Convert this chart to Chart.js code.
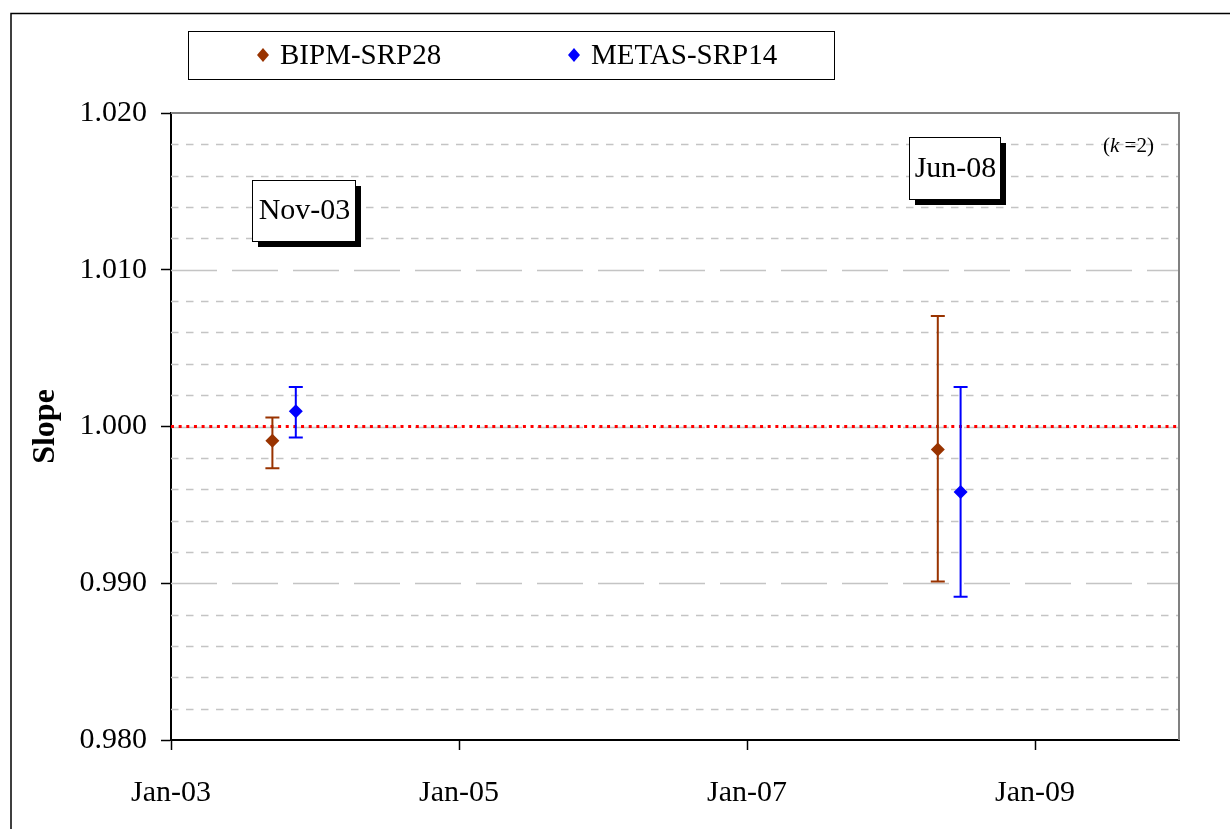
<!DOCTYPE html>
<html>
<head>
<meta charset="utf-8">
<script src="https://cdn.jsdelivr.net/npm/chart.js@4.4.0/dist/chart.umd.min.js"></script>
<style>
  body { margin: 0; background: #fff; }
  #slopeChart { display: block; }
</style>
</head>
<body>
<canvas id="slopeChart" width="1230" height="829"></canvas>
<script>
/**
 *  ! Data (x = months since Jan-03)
 * **/
const seriesNames = ["BIPM-SRP28", "METAS-SRP14"];
const seriesColors = ["#993300", "#0000FF"];

const bipmMonths = [8.45, 63.9];
const bipmSlope = [0.99909, 0.99853];
const bipmUpper = [1.00058, 1.00705];
const bipmLower = [0.99734, 0.99011];

const metasMonths = [10.4, 65.8];
const metasSlope = [1.00098, 0.99582];
const metasUpper = [1.00252, 1.00252];
const metasLower = [0.9993, 0.98914];

const xTickLabels = ["Jan-03", "Jan-05", "Jan-07", "Jan-09"];
const yTickLabels = ["0.980", "0.990", "1.000", "1.010", "1.020"];
const periodLabels = ["Nov-03", "Jun-08"];
const refSlope = 1.0;

const serif = "'Liberation Serif', 'Times New Roman', serif";

function toPoints(xs, ys, hi, lo) {
  return xs.map((x, i) => ({ x: x, y: ys[i], hi: hi[i], lo: lo[i] }));
}

function isMajor(v) {
  return Math.round(v * 1000) % 10 === 0;
}

/**
 *  ! Plugins
 * **/
// outer frame, dashed grid, plot frame, reference line
const backdrop = {
  id: "backdrop",
  beforeDatasetsDraw(chart) {
    const { ctx, chartArea: a, scales } = chart;
    const y = scales.y;
    ctx.save();
    // outer frame (left + top only visible)
    ctx.strokeStyle = "#000";
    ctx.lineWidth = 1.5;
    ctx.beginPath();
    ctx.moveTo(11, 829);
    ctx.lineTo(11, 13.5);
    ctx.lineTo(1230, 13.5);
    ctx.stroke();

    ctx.strokeStyle = "#c4c4c4";
    ctx.lineWidth = 1.5;
    y.ticks.forEach((t) => {
      if (t.value <= y.min + 1e-9 || t.value >= y.max - 1e-9) return;
      const py = Math.round(y.getPixelForValue(t.value)) + 0.5;
      ctx.setLineDash(isMajor(t.value) ? [46, 15] : [7.5, 7.5]);
      ctx.beginPath();
      ctx.moveTo(a.left, py);
      ctx.lineTo(a.right, py);
      ctx.stroke();
    });
    ctx.setLineDash([]);

    // top + right plot border
    ctx.strokeStyle = "#808080";
    ctx.lineWidth = 2;
    ctx.beginPath();
    ctx.moveTo(a.left, a.top);
    ctx.lineTo(a.right, a.top);
    ctx.lineTo(a.right, a.bottom);
    ctx.stroke();

    // reference line
    const ry = y.getPixelForValue(refSlope);
    ctx.strokeStyle = "#FF0000";
    ctx.lineWidth = 3;
    ctx.setLineDash([3, 4.65]);
    ctx.beginPath();
    ctx.moveTo(a.left, ry);
    ctx.lineTo(a.right, ry);
    ctx.stroke();
    ctx.restore();
  },
};

// error bars drawn from the data through the scales
const errorBars = {
  id: "errorBars",
  beforeDatasetsDraw(chart) {
    const { ctx, scales } = chart;
    ctx.save();
    chart.data.datasets.forEach((ds) => {
      ctx.strokeStyle = ds.borderColor;
      ctx.lineWidth = 2;
      ds.data.forEach((p) => {
        const px = scales.x.getPixelForValue(p.x);
        const top = scales.y.getPixelForValue(p.hi);
        const bot = scales.y.getPixelForValue(p.lo);
        ctx.beginPath();
        ctx.moveTo(px, top);
        ctx.lineTo(px, bot);
        ctx.moveTo(px - 7, top);
        ctx.lineTo(px + 7, top);
        ctx.moveTo(px - 7, bot);
        ctx.lineTo(px + 7, bot);
        ctx.stroke();
      });
    });
    ctx.restore();
  },
};

// legend box, period labels, (k=2)
const overlay = {
  id: "overlay",
  afterDraw(chart) {
    const { ctx } = chart;
    ctx.save();
    // legend
    ctx.fillStyle = "#fff";
    ctx.fillRect(188, 31, 646, 48);
    ctx.strokeStyle = "#000";
    ctx.lineWidth = 1;
    ctx.strokeRect(188.5, 31.5, 646, 48);
    const legendX = [263, 574];
    ctx.font = "29px " + serif;
    ctx.textBaseline = "middle";
    ctx.textAlign = "left";
    seriesNames.forEach((name, i) => {
      const cx = legendX[i];
      ctx.fillStyle = seriesColors[i];
      ctx.beginPath();
      ctx.moveTo(cx, 48);
      ctx.lineTo(cx + 6, 55);
      ctx.lineTo(cx, 62);
      ctx.lineTo(cx - 6, 55);
      ctx.closePath();
      ctx.fill();
      ctx.fillStyle = "#000";
      ctx.fillText(name, cx + 17, 56);
    });

    // period boxes with shadow
    const boxes = [
      { x: 252, y: 180, w: 103, h: 61 },
      { x: 909, y: 137, w: 91, h: 62 },
    ];
    boxes.forEach((b, i) => {
      ctx.fillStyle = "#000";
      ctx.fillRect(b.x + 6, b.y + 6, b.w, b.h);
      ctx.fillStyle = "#fff";
      ctx.fillRect(b.x, b.y, b.w, b.h);
      ctx.strokeStyle = "#000";
      ctx.lineWidth = 1;
      ctx.strokeRect(b.x + 0.5, b.y + 0.5, b.w, b.h);
      ctx.fillStyle = "#000";
      ctx.textAlign = "center";
      ctx.font = "30px " + serif;
      ctx.fillText(periodLabels[i], b.x + b.w / 2 + 1, b.y + b.h / 2 + 1);
    });

    // coverage factor note
    ctx.textAlign = "left";
    ctx.fillStyle = "#000";
    let tx = 1103;
    ctx.font = "21px " + serif;
    ctx.fillText("(", tx, 146);
    tx += ctx.measureText("(").width;
    ctx.font = "italic 21px " + serif;
    ctx.fillText("k", tx, 146);
    tx += ctx.measureText("k ").width;
    ctx.font = "21px " + serif;
    ctx.fillText("=2)", tx, 146);
    ctx.restore();
  },
};

/**
 *  ! Chart
 * **/
const ctx = document.getElementById("slopeChart");

new Chart(ctx, {
  type: "scatter",
  data: {
    datasets: [
      {
        label: seriesNames[0],
        data: toPoints(bipmMonths, bipmSlope, bipmUpper, bipmLower),
        backgroundColor: seriesColors[0],
        borderColor: seriesColors[0],
        pointStyle: "rectRot",
        pointRadius: 7,
        borderWidth: 0,
      },
      {
        label: seriesNames[1],
        data: toPoints(metasMonths, metasSlope, metasUpper, metasLower),
        backgroundColor: seriesColors[1],
        borderColor: seriesColors[1],
        pointStyle: "rectRot",
        pointRadius: 7,
        borderWidth: 0,
      },
    ],
  },
  options: {
    responsive: false,
    animation: false,
    layout: {
      padding: { left: 0, right: 51, top: 113, bottom: 0 },
    },
    scales: {
      x: {
        type: "linear",
        min: 0,
        max: 84,
        ticks: {
          stepSize: 24,
          includeBounds: false,
          autoSkip: false,
          maxRotation: 0,
          padding: 25,
          color: "#000",
          font: { family: serif, size: 30 },
          callback: function (value) {
            return value % 24 === 0 ? xTickLabels[value / 24] : "";
          },
        },
        grid: {
          drawOnChartArea: false,
          tickLength: 10,
          tickColor: "#000",
          tickWidth: 1.5,
        },
        border: { color: "#000", width: 2 },
        afterFit: function (scale) {
          scale.height = 89;
        },
      },
      y: {
        min: 0.98,
        max: 1.02,
        ticks: {
          stepSize: 0.002,
          autoSkip: false,
          padding: 14,
          color: "#000",
          font: { family: serif, size: 30 },
          callback: function (value) {
            if (!isMajor(value)) return "";
            return yTickLabels[Math.round((value - 0.98) * 100)];
          },
        },
        grid: {
          drawOnChartArea: false,
          tickLength: 10,
          tickWidth: 1.5,
          tickColor: (c) => (c.tick && isMajor(c.tick.value) ? "#000" : "rgba(0,0,0,0)"),
        },
        border: { color: "#000", width: 2 },
        title: {
          display: true,
          text: "Slope",
          color: "#000",
          padding: { top: 27, bottom: 0 },
          font: { family: serif, size: 32, weight: "bold" },
        },
        afterFit: function (scale) {
          scale.width = 171;
        },
      },
    },
    plugins: {
      legend: { display: false },
      tooltip: { enabled: false },
    },
  },
  plugins: [backdrop, errorBars, overlay],
});
</script>
</body>
</html>
